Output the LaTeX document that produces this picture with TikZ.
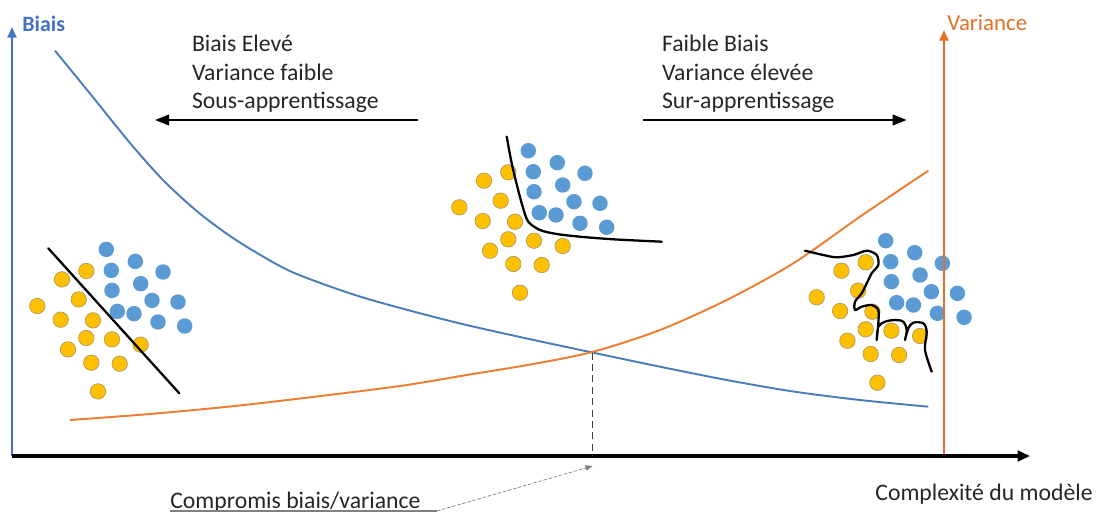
\documentclass[tikz,border=0pt]{standalone}
\usepackage{fontspec}
\setmainfont{Carlito}
\usetikzlibrary{arrows.meta}
\definecolor{biasblue}{RGB}{74,126,187}
\definecolor{axisblue}{RGB}{68,114,196}
\definecolor{varorange}{RGB}{237,125,49}
\definecolor{axisorange}{RGB}{226,112,40}
\definecolor{dotblue}{RGB}{91,155,213}
\definecolor{dotyellow}{RGB}{255,192,0}
\definecolor{dotrim}{RGB}{175,155,95}
\definecolor{txt}{RGB}{38,38,38}
\tikzset{
  bluedot/.style={fill=dotblue},
  yellowdot/.style={fill=dotyellow, draw=dotrim, line width=0.4pt},
  lbl/.style={inner sep=0pt, text=txt, font=\fontsize{13.5}{16.2}\selectfont},
  splitline/.style={line width=1.3pt, line join=round, line cap=round},
  tip/.style={-{Triangle[length=6pt,width=5pt]}}
}
\newcommand{\dotcluster}[2]{%
  \begin{scope}[shift={(#1,#2)}]
    \foreach \u/\v in {-1.7/-59.3, 27.3/-47.3, 3.3/-38.3, 55/-36.7, 32.7/-25, 4/-18.3,
                       44/-8.3, 70/-6.7, 9.3/2.7, 26/5, 50/13.3, 76.7/17.3}
      \fill[bluedot] (\u,\v) circle[radius=4.4pt];
    \foreach \u/\v in {-21.7/-37.7, -46/-29.3, -29.3/-9.3, -70.7/-2.7, -47.3/11, -15/11.7,
                       -21.7/29.3, 4/30.7, 32.7/36, -40/40.7, -16.7/54, 11.7/55, -10/82.7}
      \filldraw[yellowdot] (\u,\v) circle[radius=4.4pt];
  \end{scope}}
\begin{document}
\begin{tikzpicture}[x=0.02cm,y=-0.02cm]
\useasboundingbox (0,0) rectangle (1103,514);
\coordinate (O) at (12,456);
\coordinate (ytop) at (12,27);
\coordinate (xend) at (1030,456);
\coordinate (vbot) at (944,457);
\coordinate (vtop) at (944,30);
\coordinate (cross) at (592.5,352.5);
\coordinate (crossfoot) at (592.5,456);
\coordinate (leadend) at (592.5,466);
\coordinate (ulstart) at (170,511);
\coordinate (ulend) at (437,511);

\draw[biasblue, line width=1.1pt] plot[smooth] coordinates {(55,50.7) (92,96) (130,143) (163,180) (196.7,211) (230,236) (263,256.5) (296.7,274) (363,297.5) (450,321) (520,337) (593.3,352.7) (660,366.7) (726.7,380) (793.3,391.5) (860,400) (928.3,406.7)};
\draw[varorange, line width=1.1pt] plot[smooth] coordinates {(70,420) (150,414) (230,406.5) (300,398.5) (400,386) (466.7,375) (533.3,364) (593.3,351.7) (660,330) (726.7,300) (793.3,263.3) (860,216.7) (928.3,170.7)};

\dotcluster{108}{308.7}
\dotcluster{530}{210}
\dotcluster{887.4}{300}

\draw[splitline] (48.3,248.3)--(179.3,393.3);
\draw[splitline] plot[smooth] coordinates {(506.7,136.7) (511.7,163.3) (517.3,186.7) (522.7,206.7) (528.3,221.7) (540,230) (556.7,234) (580,236.7) (613.3,239.3) (661.7,241.7)};
\draw[splitline] plot[smooth] coordinates {(805,250.7) (823.3,255) (836.7,257.3) (853.3,255) (866.7,250.7) (876.7,255) (878.3,265) (871.7,273.3) (866.7,283.3) (861.7,293.3) (855,301.7) (855,310) (861.7,306.7) (871.7,305) (878.3,310) (878.3,323.3) (876.7,340)}
  plot[smooth] coordinates {(876.7,340) (878.3,326.7) (885,321.7) (895,320) (903.3,321.7) (906.7,330) (905,340)}
  plot[smooth] coordinates {(905,340) (908.3,328.3) (913.3,322.7) (923.3,323.3) (926.7,331.7) (925,350) (931.7,371.7)};

\draw[axisblue, line width=1.3pt, tip] (O)--(ytop);
\draw[axisorange, line width=1.6pt, tip] (vbot)--(vtop);
\draw[black, line width=2pt, -{Triangle[length=7pt,width=6pt]}] (O)--(xend);
\draw[black!75, line width=0.8pt, dash pattern=on 4pt off 2.5pt] (cross)--(crossfoot);

\node[inner sep=0pt, anchor=west, text=axisblue, font=\fontsize{12.5}{15}\selectfont\bfseries] (biais) at (22,24) {Biais};
\node[inner sep=0pt, anchor=west, text=axisorange, font=\fontsize{13}{15}\selectfont] (variance) at (947,23) {Variance};

\node[lbl, align=left, anchor=base west] (under) at (191.7,108.7) {Biais Elevé\\Variance faible\\Sous-apprentissage};
\node[lbl, align=left, anchor=base west] (over) at (661.7,108.7) {Faible Biais\\Variance élevée\\Sur-apprentissage};
\coordinate (leftA) at (418.3,120);
\coordinate (leftB) at (155,120);
\coordinate (rightA) at (643.3,120);
\coordinate (rightB) at (906.7,120);
\draw[black, line width=1.2pt, -{Triangle[length=8pt,width=6pt]}] (leftA)--(leftB);
\draw[black, line width=1.2pt, -{Triangle[length=8pt,width=6pt]}] (rightA)--(rightB);

\node[lbl, anchor=base west] (complex) at (875,500) {Complexité du modèle};
\node[lbl, anchor=base west] (compromis) at (170,508) {Compromis biais/variance};
\draw[black!50, line width=0.6pt] (ulstart)--(ulend);
\draw[black!50, line width=0.4pt, dash pattern=on 2pt off 1pt, -{Triangle[length=4pt,width=3pt]}] (ulend)--(leadend);
\end{tikzpicture}
\end{document}
